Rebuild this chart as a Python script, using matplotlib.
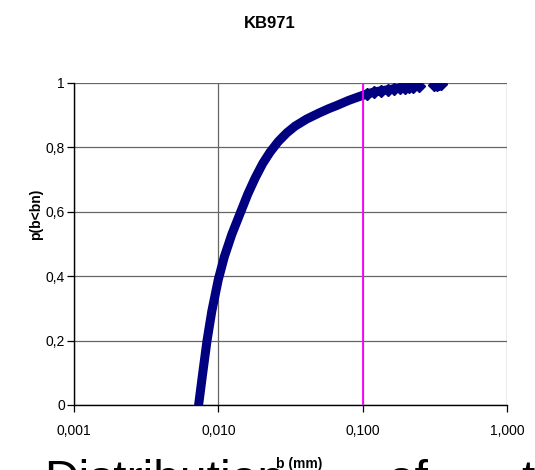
import numpy as np
import matplotlib
matplotlib.use("Agg")
import matplotlib.pyplot as plt
from matplotlib.ticker import FixedLocator, NullLocator

plt.rcParams['font.family'] = ['Liberation Sans', 'DejaVu Sans']

# data
b_mm = [0.0073, 0.0078, 0.00835, 0.0090, 0.0100, 0.0110, 0.0124, 0.0143,
        0.0160, 0.0180, 0.0203, 0.0228, 0.0260, 0.0298, 0.0340, 0.0409,
        0.0500, 0.0580, 0.0660, 0.0800, 0.0950, 0.1070, 0.120, 0.135,
        0.150, 0.165, 0.180, 0.195, 0.210, 0.225, 0.245]
p_cum = [0.000, 0.10, 0.20, 0.29, 0.39, 0.46, 0.53, 0.60,
         0.655, 0.705, 0.75, 0.785, 0.818, 0.845, 0.866, 0.888,
         0.907, 0.920, 0.930, 0.946, 0.958, 0.966, 0.972, 0.976,
         0.979, 0.982, 0.984, 0.986, 0.988, 0.989, 0.990]
b_tail = [0.310, 0.325, 0.340, 0.350]
p_tail = [0.993, 0.995, 0.997, 0.998]

b_limit = [0.1, 0.1]
p_limit = [0.0, 1.0]

xticks = [0.001, 0.01, 0.1, 1.0]
xlabels = ['0,001', '0,010', '0,100', '1,000']
yticks = [0, 0.2, 0.4, 0.6, 0.8, 1.0]
ylabels = ['0', '0,2', '0,4', '0,6', '0,8', '1']

navy = '#000080'

fig = plt.figure(figsize=(5.35, 4.70), dpi=100)
ax = fig.add_axes([74/535, 65/470, 433/535, 322/470])

ax.plot(b_mm, p_cum, color=navy, lw=6.5, solid_capstyle='round',
        solid_joinstyle='round', zorder=3)
# separate diamond markers show up along the flat upper tail
b_pts = [b for b in b_mm if b >= 0.1] + b_tail
p_pts = [p for b, p in zip(b_mm, p_cum) if b >= 0.1] + p_tail
ax.plot(b_pts, p_pts, ls='none', marker='D', ms=6, color=navy, mec=navy, zorder=3)
ax.plot(b_limit, p_limit, color='#FF00FF', lw=1.3, zorder=4)

ax.set_xscale('log')
ax.set_xlim(0.001, 1.0)
ax.set_ylim(0, 1)
ax.xaxis.set_major_locator(FixedLocator(xticks))
ax.xaxis.set_minor_locator(NullLocator())
ax.set_xticklabels(xlabels)
ax.set_yticks(yticks)
ax.set_yticklabels(ylabels)
ax.tick_params(labelsize=10, length=5, width=0.9, color='black')
ax.tick_params(axis='x', pad=9)
ax.tick_params(axis='y', pad=1.5)

ax.grid(True, color='#666666', lw=0.9, zorder=1)
ax.set_axisbelow(True)
for s in ['top', 'right']:
    ax.spines[s].set_visible(False)
for s in ['left', 'bottom']:
    ax.spines[s].set_color('black')
    ax.spines[s].set_linewidth(1.0)

ax.set_ylabel('p(b<bn)', fontsize=10, fontweight='bold')
ax.yaxis.set_label_coords(-0.072, 0.593)
ax.set_xlabel('b (mm)', fontsize=10, fontweight='bold')
ax.xaxis.set_label_coords(0.52, -0.16)

fig.text(0.505, 0.951, 'KB971', ha='center', va='center',
         fontsize=12, fontweight='bold')
# cut-off caption below the chart (justified text, wide word gaps)
caption_words = ['Distribution', 'of', 'the']
caption_x = [44, 388, 521]
for word, xp in zip(caption_words, caption_x):
    fig.text(xp/535, -0.051, word, ha='left', va='baseline', fontsize=34.5)

fig.savefig('out.png', dpi=100)
